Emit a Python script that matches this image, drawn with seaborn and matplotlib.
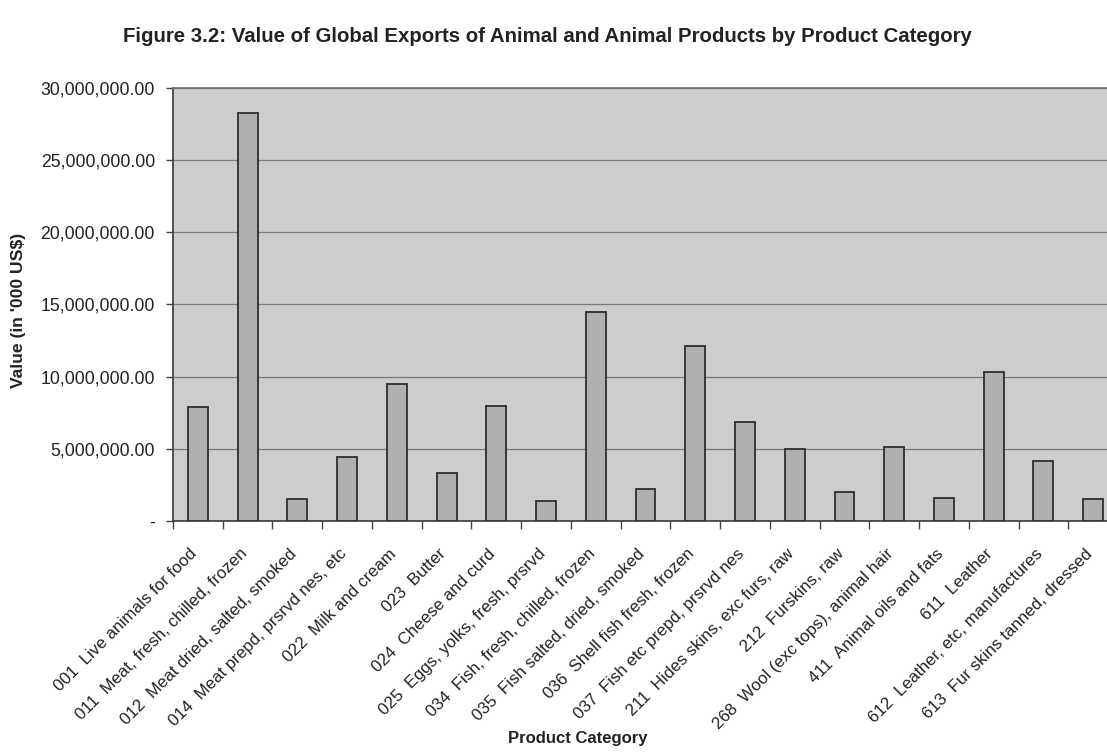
import matplotlib
matplotlib.use("Agg")
import matplotlib.pyplot as plt
import matplotlib.ticker as mticker
import matplotlib.transforms as mtransforms
import seaborn as sns
import pandas as pd

categories = [
    "001  Live animals for food",
    "011  Meat, fresh, chilled, frozen",
    "012  Meat dried, salted, smoked",
    "014  Meat prepd, prsrvd nes, etc",
    "022  Milk and cream",
    "023  Butter",
    "024  Cheese and curd",
    "025  Eggs, yolks, fresh, prsrvd",
    "034  Fish, fresh, chilled, frozen",
    "035  Fish salted, dried, smoked",
    "036  Shell fish fresh, frozen",
    "037  Fish etc prepd, prsrvd nes",
    "211  Hides skins, exc furs, raw",
    "212  Furskins, raw",
    "268  Wool (exc tops), animal hair",
    "411  Animal oils and fats",
    "611  Leather",
    "612  Leather, etc, manufactures",
    "613  Fur skins tanned, dressed",
]
values = [
    7900000, 28300000, 1500000, 4400000, 9500000, 3350000, 8000000,
    1400000, 14450000, 2200000, 12100000, 6850000, 5000000, 2000000,
    5150000, 1600000, 10300000, 4150000, 1500000,
]
y_ticks = [0, 5000000, 10000000, 15000000, 20000000, 25000000, 30000000]

df = pd.DataFrame({"category": categories, "value": values})

sns.set_theme(style="white")
plt.rcParams["font.family"] = ["Liberation Sans", "DejaVu Sans"]

fig = plt.figure(figsize=(11.07, 7.53), dpi=100)
fig.patch.set_facecolor("white")
ax = fig.add_axes([173 / 1107, 232 / 753, 945 / 1107, 433 / 753])
ax.set_facecolor("#cdcdcd")

sns.barplot(data=df, x="category", y="value", ax=ax, color="#b0b0b0",
            saturation=1, width=0.4, edgecolor="#2e2e2e", linewidth=1.3,
            zorder=3)

ax.set_xlim(-0.5, len(categories) - 0.5)
ax.set_ylim(0, 30000000)
ax.set_yticks(y_ticks)
ax.yaxis.set_major_formatter(
    mticker.FuncFormatter(lambda v, p: "-" if v == 0 else f"{v:,.2f}"))
ax.grid(axis="y", color="#7a7a7a", linewidth=0.9, zorder=1)
ax.grid(axis="x", visible=False)
ax.set_axisbelow(True)

# category boundaries carry the x tick marks
ax.set_xticks([i + 0.5 for i in range(-1, len(categories))], minor=True)
ax.set_xticks(range(len(categories)))
ax.set_xticklabels(categories, rotation=45, ha="right", va="top",
                   rotation_mode="anchor", fontsize=12.2, color="#222222")
ax.tick_params(axis="x", which="major", length=0, pad=18)
ax.tick_params(axis="x", which="minor", length=6, width=1, color="#444444",
               direction="out", bottom=True)
ax.tick_params(axis="y", length=5, width=1, color="#444444", direction="out",
               left=True, labelsize=12.7, labelcolor="#222222", pad=8)

# nudge the slanted labels left so their ends sit under each bar
shift = mtransforms.ScaledTranslation(-6 / 72, 0, fig.dpi_scale_trans)
for lab in ax.get_xticklabels():
    lab.set_transform(lab.get_transform() + shift)

for side in ["left", "bottom", "top"]:
    ax.spines[side].set_visible(True)
    ax.spines[side].set_color("#3a3a3a")
    ax.spines[side].set_linewidth(1.2)
ax.spines["top"].set_color("#707070")
ax.spines["right"].set_visible(False)

ax.set_xlabel("")
ax.set_ylabel("")
fig.text(18 / 1107, 1 - 310 / 753, "Value (in '000 US$)", rotation=90,
         ha="center", va="center", fontsize=12.6, fontweight="bold",
         color="#222222")
fig.text(578 / 1107, 1 - 739 / 753, "Product Category", ha="center",
         va="center", fontsize=12, fontweight="bold", color="#222222")
fig.text(547 / 1107, 1 - 37 / 753,
         "Figure 3.2: Value of Global Exports of Animal and Animal Products by Product Category",
         ha="center", va="center", fontsize=14.7, fontweight="bold",
         color="#222222")

fig.savefig("out.png", dpi=100, facecolor="white")
